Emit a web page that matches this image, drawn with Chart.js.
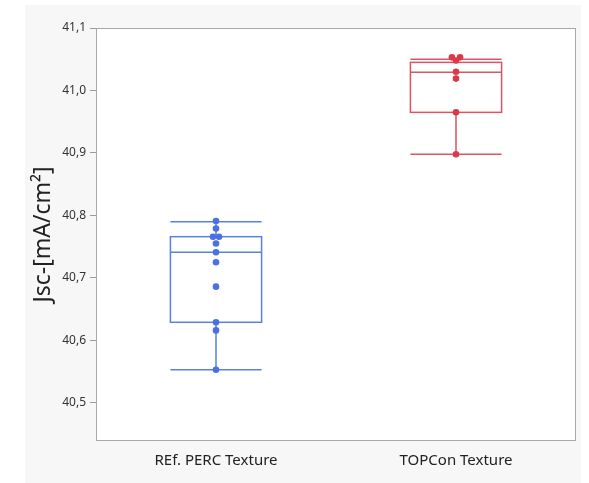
<!DOCTYPE html>
<html>
<head>
<meta charset="utf-8">
<script src="https://cdn.jsdelivr.net/npm/chart.js@4/dist/chart.umd.min.js"></script>
<style>
  body { margin: 0; background: #fff; }
  #panel { position: absolute; left: 25px; top: 5px; width: 556px; height: 478px; background: #f7f7f7; }
  #wrap { position: absolute; left: 0; top: 0; width: 589px; height: 483px; }
</style>
</head>
<body>
<div id="panel"></div>
<div id="wrap"><canvas id="chart" width="589" height="483"></canvas></div>
<script>
const groups = ['REf. PERC Texture', 'TOPCon Texture'];
const yTicks = [40.5, 40.6, 40.7, 40.8, 40.9, 41.0, 41.1];

// box stats (min, q1, median, q3, max)
const boxMin = [40.553, 40.898];
const boxQ1 = [40.629, 40.965];
const boxMedian = [40.741, 41.029];
const boxQ3 = [40.766, 41.045];
const boxMax = [40.790, 41.050];

// single cells, x is the group index with the small jitter seen in the picture
const percJsc = [40.791, 40.779, 40.766, 40.766, 40.755, 40.741, 40.725, 40.686, 40.629, 40.616, 40.553];
const percX = [0, 0, -0.0125, 0.0125, 0, 0, 0, 0, 0, 0, 0];
const topconJsc = [41.053, 41.053, 41.048, 41.030, 41.019, 40.965, 40.898];
const topconX = [0.983, 1.017, 1, 1, 1, 1, 1];

const pointColors = ['#4a70e2', '#d83a4a'];
const lineColors = ['#5a80e2', '#db5563'];
const boxHalf = 0.19;
const FONT = "'Noto Sans', 'Open Sans', sans-serif";

const boxPlugin = {
  id: 'boxes',
  beforeDraw(chart) {
    const { ctx, chartArea: a } = chart;
    ctx.save();
    ctx.fillStyle = '#ffffff';
    ctx.fillRect(a.left, a.top, a.right - a.left, a.bottom - a.top);
    ctx.restore();
  },
  beforeDatasetsDraw(chart) {
    const { ctx } = chart;
    const xs = chart.scales.x;
    const ys = chart.scales.y;
    ctx.save();
    ctx.lineWidth = 1.5;
    groups.forEach((g, i) => {
      const l = xs.getPixelForValue(i - boxHalf);
      const r = xs.getPixelForValue(i + boxHalf);
      const c = xs.getPixelForValue(i);
      const yMin = ys.getPixelForValue(boxMin[i]);
      const yQ1 = ys.getPixelForValue(boxQ1[i]);
      const yMed = ys.getPixelForValue(boxMedian[i]);
      const yQ3 = ys.getPixelForValue(boxQ3[i]);
      const yMax = ys.getPixelForValue(boxMax[i]);
      ctx.strokeStyle = lineColors[i];
      ctx.strokeRect(l, yQ3, r - l, yQ1 - yQ3);
      ctx.beginPath();
      ctx.moveTo(l, yMed); ctx.lineTo(r, yMed);
      ctx.moveTo(c, yQ3); ctx.lineTo(c, yMax);
      ctx.moveTo(c, yQ1); ctx.lineTo(c, yMin);
      ctx.moveTo(l, yMax); ctx.lineTo(r, yMax);
      ctx.moveTo(l, yMin); ctx.lineTo(r, yMin);
      ctx.stroke();
    });
    ctx.restore();
  },
  afterDraw(chart) {
    const { ctx, chartArea: a } = chart;
    ctx.save();
    ctx.strokeStyle = '#a8a8a8';
    ctx.lineWidth = 1;
    ctx.strokeRect(a.left + 0.5, a.top + 0.5, a.right - a.left - 1, a.bottom - a.top - 1);
    ctx.restore();
  },
};

const ctx = document.getElementById('chart').getContext('2d');
const chart = new Chart(ctx, {
  type: 'scatter',
  data: {
    datasets: [
      {
        label: groups[0],
        data: percJsc.map((v, k) => ({ x: percX[k], y: v })),
        backgroundColor: pointColors[0],
        borderColor: pointColors[0],
        pointRadius: 3.3,
        borderWidth: 0,
      },
      {
        label: groups[1],
        data: topconJsc.map((v, k) => ({ x: topconX[k], y: v })),
        backgroundColor: pointColors[1],
        borderColor: pointColors[1],
        pointRadius: 3.3,
        borderWidth: 0,
      },
    ],
  },
  options: {
    responsive: false,
    animation: false,
    devicePixelRatio: 1,
    layout: { padding: { left: 0, top: 28, right: 13, bottom: 0 } },
    plugins: {
      legend: { display: false },
      tooltip: { enabled: false },
    },
    scales: {
      x: {
        type: 'linear',
        min: -0.5,
        max: 1.5,
        afterBuildTicks: (s) => { s.ticks = groups.map((g, i) => ({ value: i })); },
        afterFit: (s) => { s.height = 42; },
        ticks: {
          callback: (v) => groups[v],
          font: { family: FONT, size: 15 },
          color: '#222',
          padding: 3,
          maxRotation: 0,
        },
        grid: { display: false },
        border: { display: false },
      },
      y: {
        min: 40.439,
        max: 41.1,
        afterBuildTicks: (s) => { s.ticks = yTicks.map((v) => ({ value: v })); },
        afterFit: (s) => { s.width = 96; },
        ticks: {
          callback: (v) => v.toFixed(1).replace('.', ','),
          font: { family: FONT, size: 12 },
          color: '#333',
          padding: 4,
        },
        grid: { drawOnChartArea: false, tickLength: 6, color: '#9a9a9a' },
        border: { display: false },
        title: {
          display: true,
          text: 'Jsc-[mA/cm²]',
          font: { family: FONT, size: 23 },
          color: '#222',
          padding: { top: 30, bottom: 0 },
        },
      },
    },
  },
  plugins: [boxPlugin],
});
</script>
</body>
</html>
